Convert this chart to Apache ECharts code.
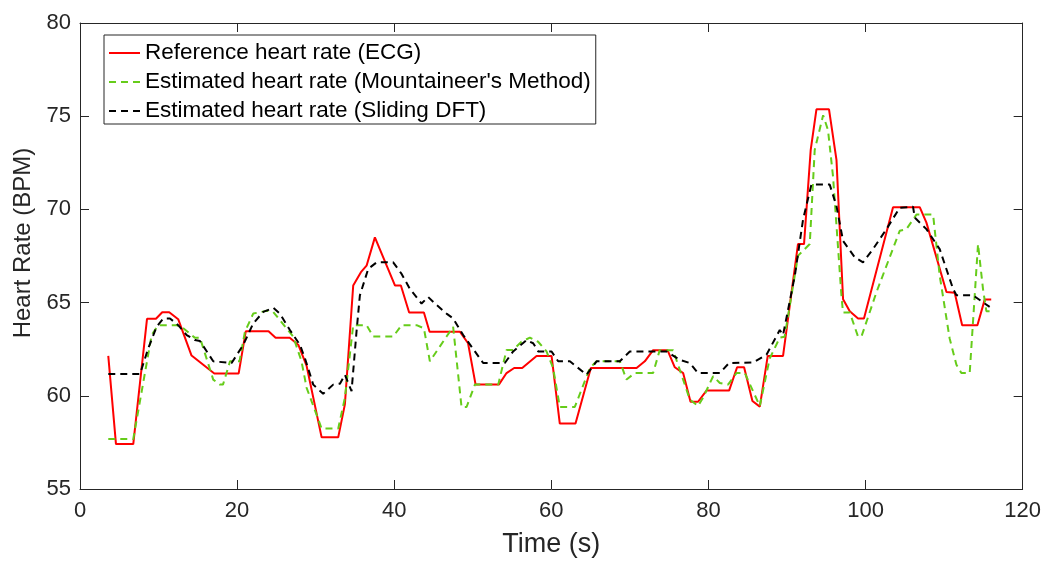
<!DOCTYPE html>
<html>
<head>
<meta charset="utf-8">
<script src="https://cdn.jsdelivr.net/npm/echarts@6/dist/echarts.min.js"></script>
<style>html,body{margin:0;padding:0;background:#fff;}#c{width:1044px;height:563px;}</style>
</head>
<body>
<div id="c"></div>
<script>
const seriesNames = ["Reference heart rate (ECG)", "Estimated heart rate (Mountaineer's Method)", "Estimated heart rate (Sliding DFT)"];
const xTicks = [0, 20, 40, 60, 80, 100, 120];
const yTicks = [55, 60, 65, 70, 75, 80];

const refHR = [
  [3.6,62.14],[4.58,57.41],[6.78,57.41],[8.53,64.13],[9.67,64.13],[10.47,64.48],[11.36,64.48],[12.5,64.11],
  [14.2,62.16],[17.1,61.2],[20.2,61.2],[21.1,63.46],[24.0,63.46],[24.9,63.12],[26.7,63.12],[27.8,62.73],
  [28.85,61.6],[30.76,57.77],[32.87,57.77],[33.72,59.54],[34.78,65.92],[35.76,66.63],[36.48,66.98],[37.54,68.5],
  [40.09,65.92],[40.85,65.92],[41.9,64.47],[43.78,64.47],[44.5,63.44],[48.36,63.44],[49.4,62.82],[50.36,60.6],
  [53.32,60.6],[54.3,61.22],[55.27,61.49],[56.29,61.49],[58.12,62.14],[60.03,62.14],[61.08,58.51],[63.08,58.51],
  [65.03,61.49],[70.85,61.49],[71.9,61.85],[72.96,62.45],[74.79,62.45],[75.72,61.53],[76.78,61.22],[77.72,59.68],
  [78.68,59.68],[79.75,60.28],[82.63,60.28],[83.65,61.53],[84.54,61.53],[85.6,59.72],[86.54,59.42],[87.55,62.14],
  [89.5,62.14],[91.4,68.14],[92.17,68.14],[93.02,73.19],[93.75,75.37],[95.35,75.37],[96.3,72.66],[97.14,65.18],
  [97.99,64.54],[99.05,64.15],[99.8,64.15],[103.5,70.12],[106.9,70.12],[107.75,69.29],[110.3,65.57],[111.35,65.53],
  [112.3,63.79],[114.24,63.79],[115.17,65.16],[116.0,65.16]
];

const mountHR = [
  [3.6,57.68],[6.78,57.68],[9.12,63.26],[9.96,63.79],[12.3,63.79],[13.15,63.62],[14.6,63.12],[15.27,63.12],
  [16.96,60.87],[17.8,60.6],[18.2,60.6],[19.1,61.85],[20.3,61.85],[21.0,63.44],[22.05,64.41],[23.76,64.56],
  [24.6,64.5],[25.45,64.06],[27.14,63.18],[28.2,61.85],[28.85,60.43],[30.76,58.24],[32.87,58.24],[33.72,59.89],
  [34.78,63.79],[36.48,63.79],[37.32,63.18],[39.87,63.18],[40.94,63.79],[42.85,63.79],[43.78,63.62],[44.54,61.85],
  [46.66,63.18],[47.5,63.7],[48.57,59.4],[49.21,59.4],[50.27,60.6],[53.24,60.6],[54.3,62.46],[55.14,62.46],
  [56.2,62.9],[57.27,63.12],[58.32,62.9],[59.39,62.38],[60.23,61.49],[61.08,59.4],[62.99,59.4],[64.9,61.49],
  [65.76,61.85],[68.72,61.85],[69.57,60.87],[70.63,61.22],[72.96,61.22],[73.8,62.45],[75.5,62.45],[76.78,60.87],
  [77.63,59.8],[78.68,59.45],[79.32,59.9],[80.6,61.05],[81.45,60.69],[82.5,60.6],[83.57,61.22],[84.63,61.22],
  [86.54,59.45],[87.8,62.0],[89.08,63.12],[89.7,63.17],[91.41,67.52],[92.9,68.14],[93.53,73.19],[94.6,75.05],
  [95.22,74.26],[95.86,71.77],[96.93,65.39],[97.13,64.47],[97.99,64.47],[99.04,63.18],[99.48,63.18],[101.4,65.57],
  [104.35,68.85],[105.2,68.94],[106.48,69.72],[108.6,69.72],[109.44,66.45],[110.7,63.09],[111.57,61.66],[112.2,61.22],
  [113.26,61.22],[114.32,68.14],[114.95,65.74],[115.38,64.54],[116.0,64.54]
];

const dftHR = [
  [3.6,61.17],[7.64,61.17],[8.69,62.55],[9.76,63.71],[10.6,64.15],[11.45,64.15],[12.5,63.79],[13.58,63.26],
  [14.63,62.99],[15.27,62.94],[16.96,61.85],[19.3,61.76],[20.78,62.73],[22.05,63.88],[23.33,64.5],[24.6,64.72],
  [25.45,64.41],[26.72,63.53],[28.0,62.73],[28.63,62.02],[29.69,60.6],[30.96,60.11],[32.23,60.6],[33.09,60.65],
  [33.72,61.13],[34.57,60.25],[35.2,63.44],[35.63,65.39],[36.69,66.81],[37.76,67.16],[39.87,67.16],[40.94,66.54],
  [41.99,65.74],[43.48,64.95],[44.32,65.3],[45.18,64.95],[46.66,64.41],[47.5,64.15],[48.78,63.26],[50.27,62.38],
  [51.32,61.76],[54.08,61.76],[55.14,62.38],[56.85,62.99],[57.69,62.82],[58.33,62.38],[60.03,62.38],[60.87,61.85],
  [62.36,61.85],[64.48,61.13],[65.76,61.85],[68.72,61.85],[69.99,62.38],[74.66,62.38],[76.35,61.93],[77.63,61.76],
  [78.68,61.22],[81.45,61.22],[82.63,61.76],[85.68,61.79],[87.39,62.2],[89.08,63.53],[89.5,63.26],[91.0,66.45],
  [92.05,69.47],[93.11,71.33],[95.44,71.33],[96.3,70.18],[97.14,68.31],[98.63,67.43],[99.68,67.16],[100.95,67.87],
  [102.66,68.94],[104.35,70.09],[106.05,70.14],[106.26,69.56],[107.75,68.94],[109.44,67.87],[111.14,65.74],[111.57,65.39],
  [113.69,65.39],[115.17,64.95],[115.8,64.77]
];

const axisColor = '#262626';
const fontFam = '"Liberation Sans", Arial, Helvetica, sans-serif';

const chart = echarts.init(document.getElementById('c'), null, {renderer: 'canvas'});

function xAx(pos, showLabel, name) {
  return {
    type: 'value', position: pos, min: xTicks[0], max: xTicks[xTicks.length - 1], interval: 20,
    name: name || '', nameLocation: 'middle', nameGap: 42,
    nameTextStyle: {color: axisColor, fontSize: 27, fontFamily: fontFam},
    axisLine: {show: true, onZero: false, lineStyle: {color: axisColor, width: 1}},
    axisTick: {show: true, inside: true, length: 9, lineStyle: {color: axisColor}},
    axisLabel: {show: showLabel, color: axisColor, fontSize: 22, fontFamily: fontFam, margin: 11},
    splitLine: {show: false}
  };
}
function yAx(pos, showLabel, name) {
  return {
    type: 'value', position: pos, min: yTicks[0], max: yTicks[yTicks.length - 1], interval: 5,
    name: name || '', nameLocation: 'middle', nameGap: 44,
    nameTextStyle: {color: axisColor, fontSize: 24, fontFamily: fontFam, padding: [0, 0, 0, 26]},
    axisLine: {show: true, onZero: false, lineStyle: {color: axisColor, width: 1}},
    axisTick: {show: true, inside: true, length: 9, lineStyle: {color: axisColor}},
    axisLabel: {show: showLabel, color: axisColor, fontSize: 22, fontFamily: fontFam, margin: 9},
    splitLine: {show: false}
  };
}

chart.setOption({
  animation: false,
  backgroundColor: '#ffffff',
  grid: {left: 80, right: 21, top: 23, bottom: 71},
  xAxis: [xAx('bottom', true, 'Time (s)'), xAx('top', false)],
  yAxis: [yAx('left', true, 'Heart Rate (BPM)'), yAx('right', false)],
  legend: {
    left: 104, top: 35, orient: 'vertical',
    backgroundColor: '#ffffff', borderColor: axisColor, borderWidth: 1,
    padding: [6, 5, 1, 4], itemGap: 5, itemWidth: 31, itemHeight: 14,
    itemStyle: {opacity: 0},
    textStyle: {color: '#000', fontSize: 22.5, lineHeight: 24, fontFamily: fontFam},
    data: seriesNames
  },
  series: [
    {name: seriesNames[0], type: 'line', data: refHR, symbol: 'none', xAxisIndex: 0, yAxisIndex: 0,
     lineStyle: {color: '#ff0000', width: 2}, itemStyle: {color: '#ff0000'}},
    {name: seriesNames[1], type: 'line', data: mountHR, symbol: 'none', xAxisIndex: 0, yAxisIndex: 0,
     lineStyle: {color: '#66cc1a', width: 2, type: [7, 5]}, itemStyle: {color: '#66cc1a'}},
    {name: seriesNames[2], type: 'line', data: dftHR, symbol: 'none', xAxisIndex: 0, yAxisIndex: 0,
     lineStyle: {color: '#000000', width: 2, type: [7, 5]}, itemStyle: {color: '#000000'}}
  ]
});
</script>
</body>
</html>
